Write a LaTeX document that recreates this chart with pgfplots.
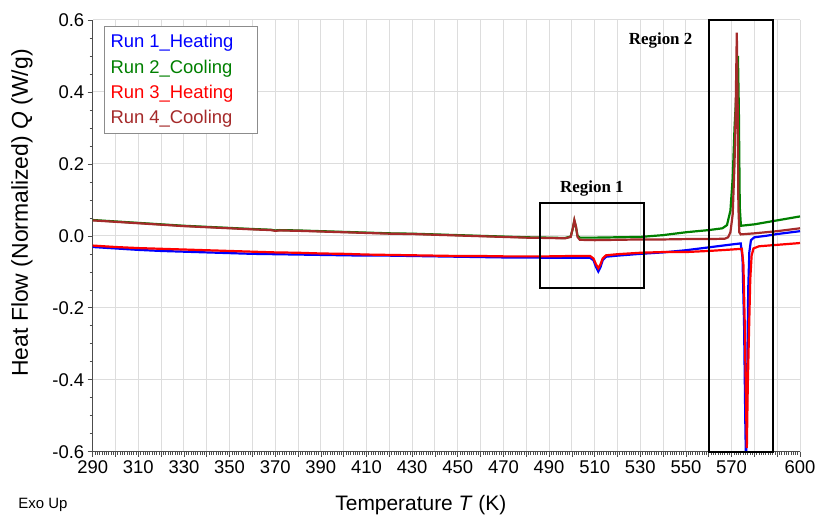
\documentclass[border=0pt]{standalone}
\usepackage{fontspec}
\setmainfont{Liberation Sans}
\newfontfamily\regionfont{Liberation Serif}
\usepackage{pgfplots}
\pgfplotsset{compat=1.18}
\definecolor{runblue}{RGB}{0,0,255}
\definecolor{rungreen}{RGB}{0,128,0}
\definecolor{runred}{RGB}{255,0,0}
\definecolor{runbrown}{RGB}{165,42,42}
\definecolor{gridgray}{RGB}{221,221,221}

\pgfplotstableread{
T Q
290 -0.031
300 -0.035
310 -0.039
320 -0.042
330 -0.044
340 -0.046
350 -0.048
360 -0.050
370 -0.051
380 -0.052
390 -0.053
400 -0.054
410 -0.055
420 -0.055
430 -0.056
440 -0.057
450 -0.058
460 -0.059
470 -0.060
480 -0.060
490 -0.061
500 -0.061
508 -0.061
509.5 -0.068
510.5 -0.085
511.6 -0.099
512.5 -0.088
513.5 -0.068
515 -0.058
520 -0.055
530 -0.050
540 -0.046
550 -0.040
560 -0.032
565 -0.028
570 -0.024
574 -0.021
574.8 -0.06
575.5 -0.25
576.1 -0.55
576.4 -0.64
576.8 -0.42
577.3 -0.15
577.8 -0.045
578.5 -0.012
580 -0.004
585 0.000
590 0.005
595 0.009
600 0.013
}\runone

\pgfplotstableread{
T Q
290 0.044
300 0.040
310 0.036
320 0.032
330 0.028
340 0.025
350 0.022
360 0.019
368 0.017
370 0.015
372 0.016
380 0.015
390 0.013
400 0.011
410 0.009
420 0.007
430 0.006
440 0.004
450 0.002
460 0.000
470 -0.002
480 -0.004
490 -0.005
497 -0.006
499.5 -0.002
500.4 0.020
501.1 0.042
501.8 0.025
502.5 0.000
503.5 -0.005
510 -0.005
520 -0.004
530 -0.003
540 0.002
550 0.010
560 0.016
566 0.021
568 0.030
569.5 0.070
570.5 0.16
571.3 0.30
572.3 0.42
572.8 0.50
573.2 0.35
573.6 0.08
574.1 0.028
580 0.032
590 0.043
600 0.054
}\runtwo

\pgfplotstableread{
T Q
290 -0.027
300 -0.031
310 -0.034
320 -0.036
330 -0.038
340 -0.040
350 -0.042
360 -0.044
370 -0.046
380 -0.047
390 -0.049
400 -0.050
410 -0.052
420 -0.053
430 -0.054
440 -0.055
450 -0.056
460 -0.056
470 -0.057
480 -0.057
490 -0.057
500 -0.056
508 -0.056
509.5 -0.063
510.5 -0.078
511.6 -0.090
512.5 -0.080
513.5 -0.063
515 -0.054
520 -0.051
530 -0.047
540 -0.045
550 -0.045
560 -0.042
570 -0.038
574.5 -0.036
575.2 -0.08
575.8 -0.25
576.3 -0.45
576.7 -0.59
577.1 -0.42
577.6 -0.28
578.2 -0.12
578.8 -0.055
579.6 -0.035
582 -0.029
590 -0.025
600 -0.020
}\runthree

\pgfplotstableread{
T Q
290 0.043
300 0.039
310 0.035
320 0.031
330 0.027
340 0.024
350 0.021
360 0.018
368 0.016
370 0.014
372 0.015
380 0.014
390 0.012
400 0.010
410 0.008
420 0.006
430 0.005
440 0.003
450 0.001
460 -0.001
470 -0.003
480 -0.005
490 -0.006
497 -0.007
499.5 -0.003
500.4 0.020
501.1 0.044
501.8 0.026
502.5 -0.003
503.5 -0.011
510 -0.012
520 -0.011
530 -0.010
540 -0.010
550 -0.009
560 -0.009
567 -0.008
568.5 -0.004
569.5 0.010
570.5 0.06
571.3 0.20
571.8 0.35
572.3 0.565
572.7 0.35
573.0 0.08
573.4 0.01
574 0.004
580 0.007
590 0.013
600 0.021
}\runfour

\begin{document}
\begin{tikzpicture}
\useasboundingbox (-92.7bp,-66.3bp) rectangle (728.3bp,451.7bp);
\begin{axis}[
  at={(0,0)}, anchor=south west, scale only axis,
  width=707.3bp, height=431.7bp,
  xmin=290, xmax=600, ymin=-0.6, ymax=0.6,
  clip mode=individual,
  axis x line*=bottom, axis y line*=left,
  axis line style={black!70, line width=0.8bp, -},
  xtick={290,300,...,600},
  xticklabels={290,,310,,330,,350,,370,,390,,410,,430,,450,,470,,490,,510,,530,,550,,570,,,600},
  minor x tick num=9,
  ytick={-0.6,-0.4,-0.2,0,0.2,0.4,0.6},
  minor y tick num=3,
  yticklabel={\pgfmathprintnumber[fixed,fixed zerofill,precision=1,assume math mode=true]{\tick}},
  grid=major,
  major grid style={gridgray, line width=1bp},
  tick align=outside,
  major tick length=5bp, minor tick length=3bp,
  tick style={black!70, line width=0.6bp},
  ticklabel style={font=\fontsize{18.5}{22}\selectfont},
  xlabel={Temperature \textit{T} (K)},
  ylabel={Heat Flow (Normalized) \textit{Q} (W/g)},
  every axis x label/.style={at={(axis description cs:0.464,0)}, anchor=center, yshift=-53bp, font=\fontsize{21}{25}\selectfont},
  every axis y label/.style={at={(axis description cs:0,0.553)}, xshift=-70.7bp, rotate=90, anchor=center, font=\fontsize{23}{27}\selectfont},
  legend style={at={(0.016,0.986)}, anchor=north west, draw=black!45, line width=1bp, fill=white,
    font=\fontsize{18.5}{22}\selectfont, row sep=6.5bp, inner xsep=4bp, inner ysep=6bp, cells={anchor=west}},
  legend image code/.code={},
]
\addplot[runblue, line width=2.2bp] table[x=T,y=Q] {\runone};
\addlegendentry{\textcolor{runblue}{Run 1\_Heating}\hspace*{18bp}}
\addplot[rungreen, line width=2.2bp] table[x=T,y=Q] {\runtwo};
\addlegendentry{\textcolor{rungreen}{Run 2\_Cooling}\hspace*{18bp}}
\addplot[runred, line width=2.2bp] table[x=T,y=Q] {\runthree};
\addlegendentry{\textcolor{runred}{Run 3\_Heating}\hspace*{18bp}}
\addplot[runbrown, line width=2.2bp] table[x=T,y=Q] {\runfour};
\addlegendentry{\textcolor{runbrown}{Run 4\_Cooling}\hspace*{18bp}}
\draw[black, line width=2bp] (axis cs:486,0.092) rectangle (axis cs:531.6,-0.144);
\draw[black, line width=2.2bp] (axis cs:560.1,0.6) rectangle (axis cs:588.1,-0.6);
\node[font=\regionfont\bfseries\fontsize{17}{20}\selectfont] at (axis cs:508.8,0.133) {Region 1};
\node[font=\regionfont\bfseries\fontsize{17}{20}\selectfont] at (axis cs:538.9,0.544) {Region 2};
\end{axis}
\node[font=\fontsize{15}{18}\selectfont] at (-49.7bp,-53.3bp) {Exo Up};
\end{tikzpicture}
\end{document}
